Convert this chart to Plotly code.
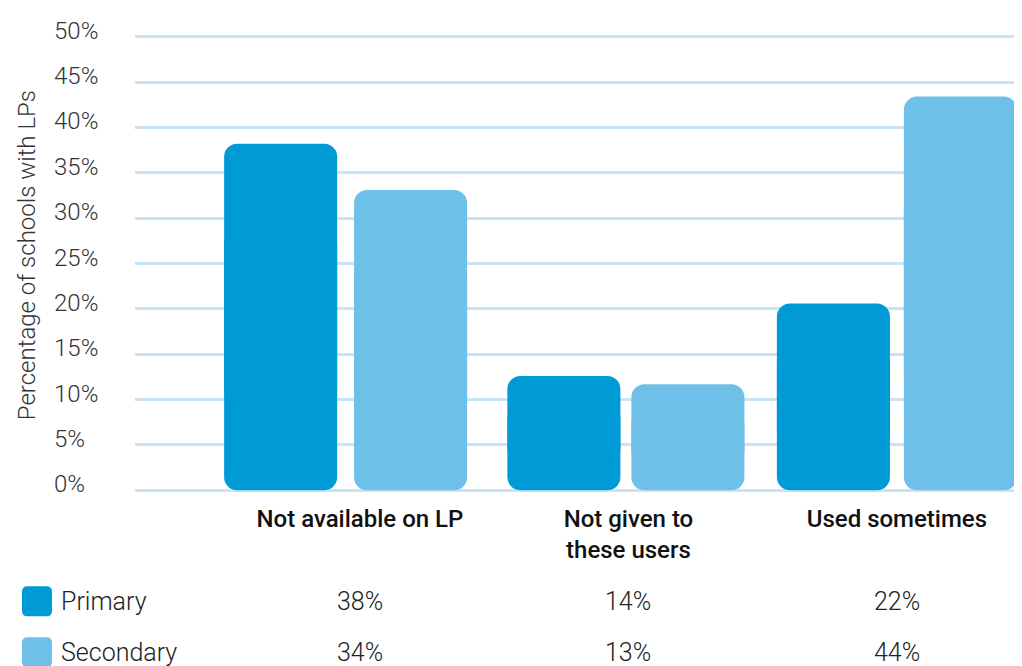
import plotly.graph_objects as go

# categories, bar heights and the printed table values
categories = ["Not available on LP", "Not given to<br>these users", "Used sometimes"]
primary = [38.2, 12.6, 20.6]
secondary = [33.1, 11.7, 43.4]
primary_table = ["38%", "14%", "22%"]
secondary_table = ["34%", "13%", "44%"]
y_ticks = [0, 5, 10, 15, 20, 25, 30, 35, 40, 45, 50]
y_tick_labels = [f"{v}%" for v in y_ticks]

PRIMARY_COLOR = "#009ad7"
SECONDARY_COLOR = "#6ec0e8"
GRID_COLOR = "#c9e4f4"
FONT = "Roboto"
BAR_W = 0.421
RADIUS = 13
# bars sit a little off the label centres in the original
PRIMARY_OFFSET = [-0.506, -0.451, -0.447]
SECONDARY_OFFSET = [-0.022, 0.011, 0.026]


def rounded_bar(values, color, offset):
    # two overlapping pieces so both ends get rounded corners: the lower piece
    # hangs down to zero, the upper piece rises to the value
    lower = go.Bar(x=categories, y=[-0.75 * v for v in values],
                   base=[0.75 * v for v in values],
                   width=BAR_W, offset=offset,
                   marker={"color": color, "cornerradius": RADIUS, "line": {"width": 0}},
                   hoverinfo="skip")
    upper = go.Bar(x=categories, y=[0.75 * v for v in values],
                   base=[0.25 * v for v in values],
                   width=BAR_W, offset=offset,
                   marker={"color": color, "cornerradius": RADIUS, "line": {"width": 0}},
                   customdata=values, hovertemplate="%{x}<br>%{customdata}%<extra></extra>")
    return [lower, upper]


def rounded_swatch(x0, x1, y0, y1, rx=0.0062, ry=0.012):
    # rounded square in paper coordinates for the legend key
    return (f"M {x0 + rx},{y0} L {x1 - rx},{y0} Q {x1},{y0} {x1},{y0 + ry} "
            f"L {x1},{y1 - ry} Q {x1},{y1} {x1 - rx},{y1} "
            f"L {x0 + rx},{y1} Q {x0},{y1} {x0},{y1 - ry} "
            f"L {x0},{y0 + ry} Q {x0},{y0} {x0 + rx},{y0} Z")


fig = go.Figure(
    data=rounded_bar(primary, PRIMARY_COLOR, PRIMARY_OFFSET)
    + rounded_bar(secondary, SECONDARY_COLOR, SECONDARY_OFFSET)
)

fig.update_layout(
    width=1014,
    height=658,
    margin={"l": 127, "r": 0, "t": 26, "b": 173},
    paper_bgcolor="white",
    plot_bgcolor="white",
    showlegend=False,
    barmode="overlay",
    font={"family": FONT, "color": "#222"},
    xaxis={
        "range": [-0.838, 2.466],
        "showgrid": False,
        "zeroline": False,
        "showline": False,
        "ticks": "",
        "ticklabelstandoff": 9,
        "tickfont": {"size": 24, "color": "#111", "weight": 500},
    },
    yaxis={
        "range": [-0.3, 50.3],
        "tickvals": y_ticks,
        "showticklabels": False,
        "showgrid": True,
        "gridcolor": GRID_COLOR,
        "gridwidth": 2.5,
        "zeroline": False,
        "showline": False,
    },
)

# y tick labels, left-aligned and sitting just above each gridline
for v, lab in zip(y_ticks, y_tick_labels):
    fig.add_annotation(text=lab, xref="paper", yref="y", x=-0.0936, y=v,
                       xanchor="left", yanchor="middle", yshift=6, showarrow=False,
                       font={"size": 24, "color": "#333", "weight": 300})

fig.add_annotation(text="Percentage of schools with LPs", xref="paper", yref="paper",
                   x=-0.1218, y=0.518, textangle=-90, showarrow=False,
                   xanchor="center", yanchor="middle",
                   font={"size": 24, "color": "#333", "weight": 300})

# legend / table rows under the chart
rows = [("Primary", PRIMARY_COLOR, primary_table, -0.236),
        ("Secondary", SECONDARY_COLOR, secondary_table, -0.347)]
for name, color, values, ypos in rows:
    fig.add_shape(type="path", xref="paper", yref="paper",
                  path=rounded_swatch(-0.1274, -0.0936, ypos - 0.0327, ypos + 0.0327),
                  fillcolor=color, line={"width": 0}, layer="above")
    fig.add_annotation(text=name, xref="paper", yref="paper", x=-0.0857, y=ypos,
                       xanchor="left", yanchor="middle", showarrow=False,
                       font={"size": 25, "color": "#222", "weight": 300})
    for cat, val in zip(categories, values):
        fig.add_annotation(text=val, xref="x", yref="paper", x=cat, y=ypos,
                           xanchor="center", yanchor="middle", showarrow=False,
                           font={"size": 25, "color": "#222", "weight": 300})

fig.write_html("out.html")
